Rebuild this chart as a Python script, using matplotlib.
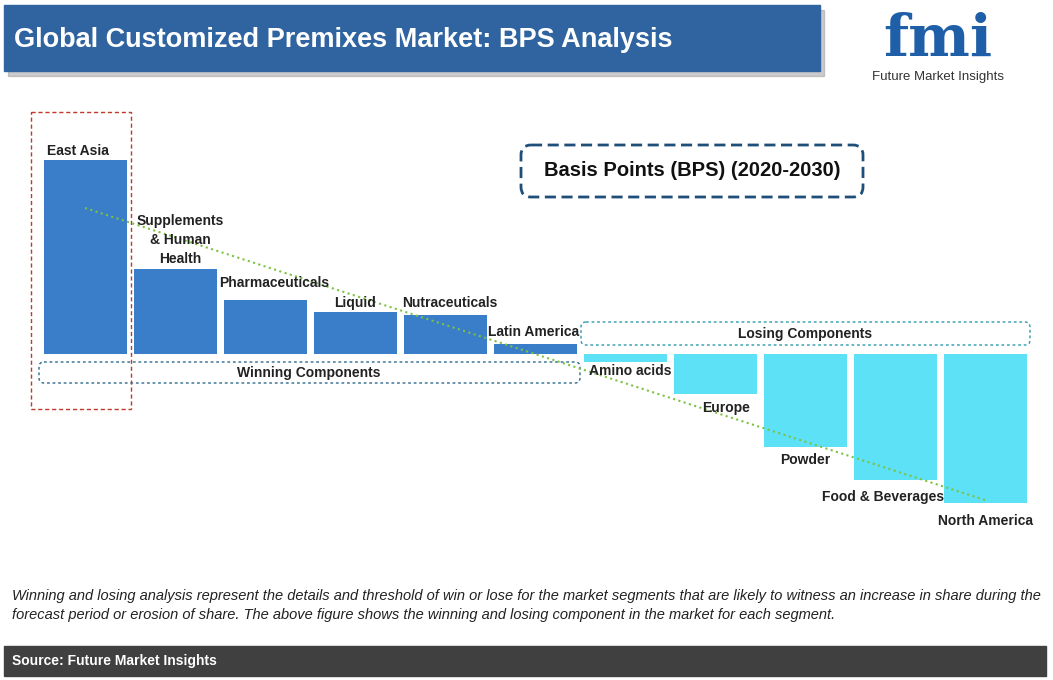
import matplotlib
matplotlib.use("Agg")
import matplotlib.pyplot as plt
from matplotlib.patches import Rectangle, FancyBboxPatch

plt.rcParams["font.family"] = "Liberation Sans"

categories = ["East Asia", "Supplements\n& Human\nHealth", "Pharmaceuticals", "Liquid", "Nutraceuticals",
              "Latin America", "Amino acids", "Europe", "Powder", "Food & Beverages", "North America"]
bps = [194, 85, 54, 42, 39, 10, -8, -40, -93, -126, -149]
# label anchor positions (pixels)
lab_pos = [(78, 151), (180, 240), (274, 283), (355, 303), (450, 303), (534, 332),
           (630, 371), (726, 408), (805, 460), (883, 497), (986, 521)]

W, H = 1053, 680
fig = plt.figure(figsize=(W/100, H/100), dpi=100)
ax = fig.add_axes([0, 0, 1, 1])
ax.set_xlim(0, W); ax.set_ylim(H, 0); ax.axis("off")

base = 354
xs = [85 + 90*i for i in range(len(bps))]
cols = ["#3A7DC9" if v > 0 else "#5CE1F6" for v in bps]
ax.bar(xs, [-v for v in bps], bottom=base, width=83, color=cols, zorder=2)

for (lx, ly), c in zip(lab_pos, categories):
    ax.text(lx, ly, c, ha="center", va="center", fontsize=10, fontweight="bold", color="#222",
            linespacing=1.45, zorder=4)

ax.plot([85, 985], [208, 500], color="#7DC242", ls=":", lw=1.5, zorder=3)

ax.add_patch(FancyBboxPatch((39, 362), 541, 21, boxstyle="round,pad=0,rounding_size=5", fill=False, ec="#2E6A8F", ls=(0,(2,2)), lw=1))
ax.text(309, 373, "Winning Components", ha="center", va="center", fontsize=10, fontweight="bold", color="#222")
ax.add_patch(FancyBboxPatch((581, 322), 449, 23, boxstyle="round,pad=0,rounding_size=5", fill=False, ec="#2E9AAF", ls=(0,(2,2)), lw=1))
ax.text(805, 334, "Losing Components", ha="center", va="center", fontsize=10, fontweight="bold", color="#222")
ax.add_patch(Rectangle((31, 112), 100, 297, fill=False, ec="#C0392B", ls=(0,(3,2)), lw=1))

ax.add_patch(FancyBboxPatch((521, 145), 342, 52, boxstyle="round,pad=0,rounding_size=10", fill=False, ec="#1F4E79", ls=(0,(4,2)), lw=2))
ax.text(692, 171, "Basis Points (BPS) (2020-2030)", ha="center", va="center", fontsize=14.5, fontweight="bold", color="#111")

ax.add_patch(Rectangle((8, 10), 816, 66, color="#999999", alpha=0.5, zorder=0))
ax.add_patch(Rectangle((4, 5), 816, 66, color="#2F64A0", zorder=1))
ax.text(14, 40, "Global Customized Premixes Market: BPS Analysis", ha="left", va="center", fontsize=19.5, fontweight="bold", color="white", zorder=2)

ax.text(938, 40, "fmi", ha="center", va="center", fontsize=42, fontweight="bold", color="#1F5FA8", family="DejaVu Serif")
ax.text(938, 77, "Future Market Insights", ha="center", va="center", fontsize=9.5, color="#333")

ax.text(12, 596, "Winning and losing analysis represent the details and threshold of win or lose for the market segments that are likely to witness an increase in share during the",
        ha="left", va="center", fontsize=10.5, style="italic", color="#222")
ax.text(12, 615, "forecast period or erosion of share. The above figure shows the winning and losing component in the market for each segment.",
        ha="left", va="center", fontsize=10.5, style="italic", color="#222")

ax.add_patch(Rectangle((4, 646), 1042, 30, color="#404040"))
ax.text(12, 661, "Source: Future Market Insights", ha="left", va="center", fontsize=10, fontweight="bold", color="white")

fig.savefig("out.png", dpi=100)
